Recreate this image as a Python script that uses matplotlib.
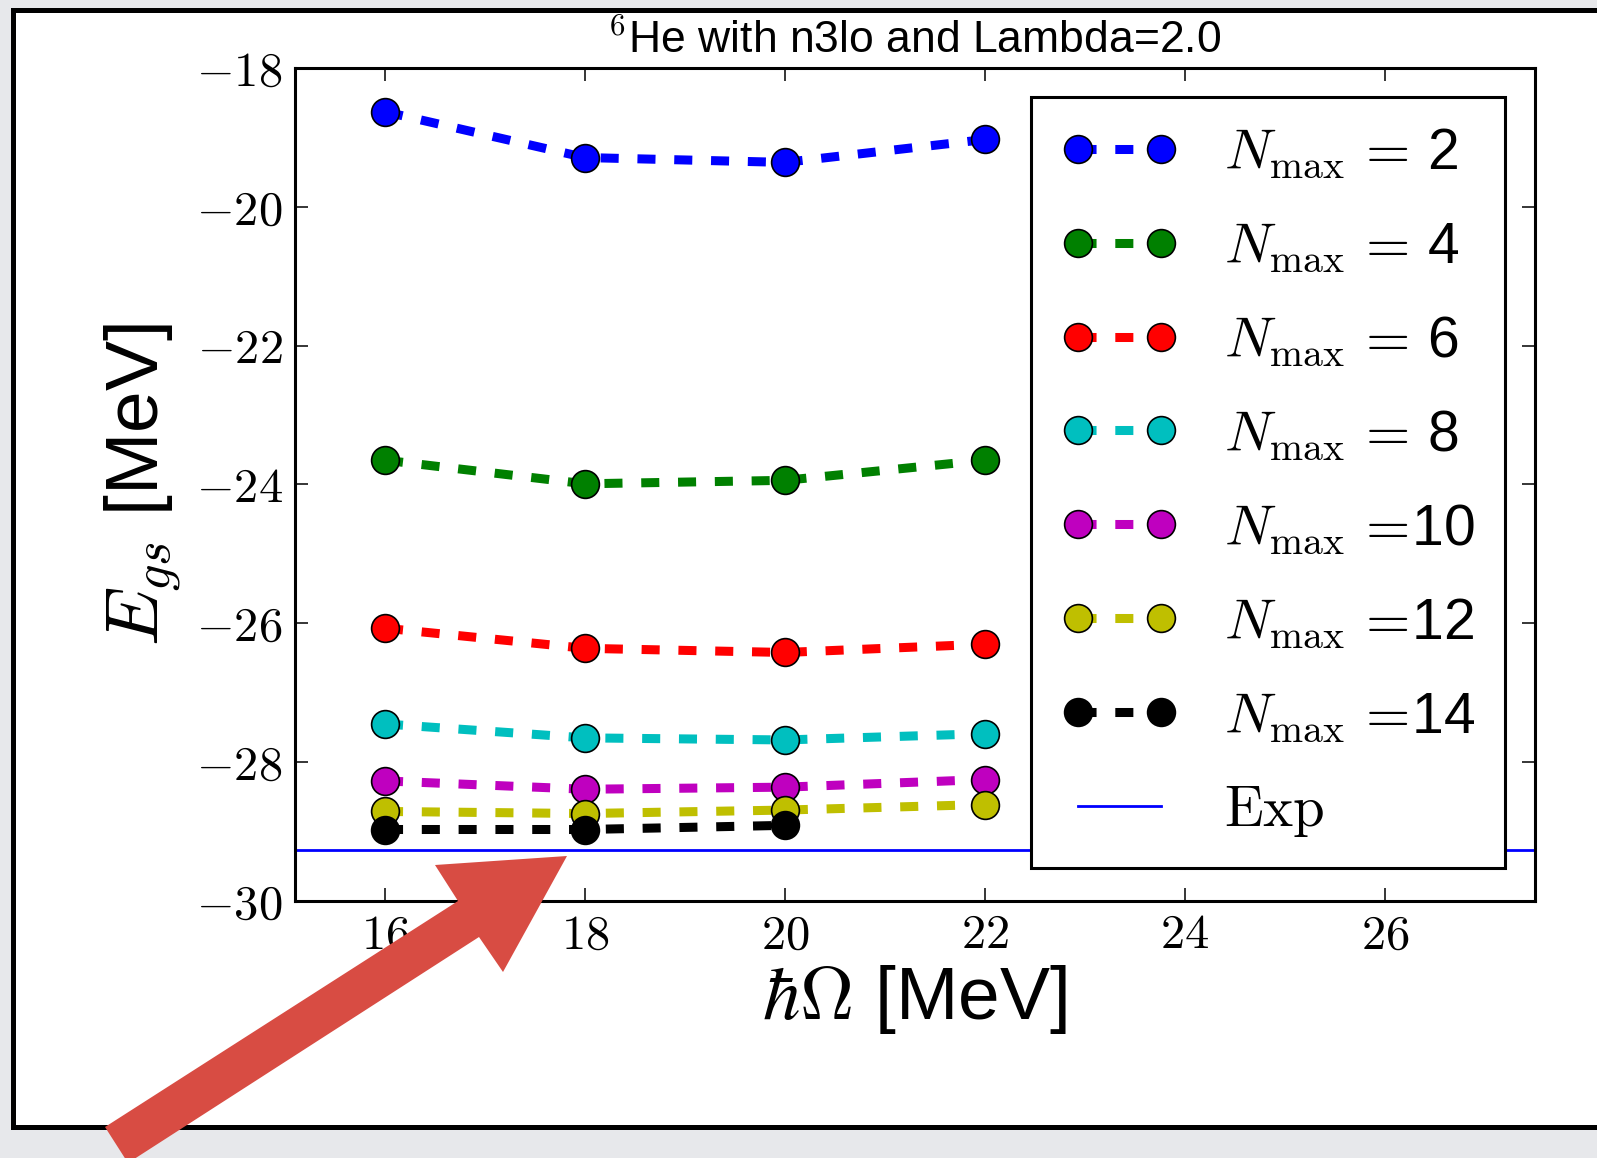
import numpy as np
import matplotlib
matplotlib.use("Agg")
import matplotlib.pyplot as plt
from matplotlib.patches import Rectangle, Polygon
from matplotlib.ticker import FuncFormatter, MultipleLocator

plt.rcParams['font.family'] = ['Liberation Sans', 'DejaVu Sans']
plt.rcParams['mathtext.fontset'] = 'cm'
plt.rcParams['lines.scale_dashes'] = False

# hbar*Omega grid and ground-state energies per model space
hw = [16, 18, 20, 22]
nmax = [2, 4, 6, 8, 10, 12, 14]
e_gs = [
    [-18.63, -19.29, -19.36, -19.03],
    [-23.65, -23.99, -23.94, -23.65],
    [-26.07, -26.36, -26.42, -26.30],
    [-27.45, -27.65, -27.68, -27.59],
    [-28.27, -28.39, -28.36, -28.25],
    [-28.71, -28.74, -28.69, -28.61],
    [-28.97, -28.97, -28.91],
]
colors = ['b', 'g', 'r', 'c', 'm', 'y', 'k']
e_exp = -29.27

W, H = 1597, 1158
fig = plt.figure(figsize=(W / 100, H / 100), dpi=100, facecolor='#e7e8eb')

# white slide panel
panel = Rectangle((13 / W, 1 - 1127 / H), 1.2, (1127 - 10) / H,
                  transform=fig.transFigure, facecolor='white',
                  edgecolor='black', lw=3.6, zorder=-5)
fig.add_artist(panel)

ax = fig.add_axes([295 / W, 1 - 901 / H, (1535 - 295) / W, (901 - 68) / H])

for n, y, c in zip(nmax, e_gs, colors):
    ax.plot(hw[:len(y)], y, linestyle='--', dashes=(13, 13.5), color=c,
            lw=6.5, marker='o', ms=20, mec='k', mew=1.2,
            label=r'$N_{\rm max}\,=\!$' + '%2d' % n)
ax.axhline(e_exp, color='b', lw=2, label=r'$\rm Exp$')

ax.set_xlim(15.1, 27.5)
ax.set_ylim(-30, -18)
ax.xaxis.set_major_locator(MultipleLocator(2))
ax.yaxis.set_major_locator(MultipleLocator(2))
fmt = FuncFormatter(lambda v, p: r'$%d$' % round(v))
ax.xaxis.set_major_formatter(fmt)
ax.yaxis.set_major_formatter(fmt)
ax.tick_params(direction='in', length=9.5, width=1.1, labelsize=35,
               pad=9, top=True, right=True)
for s in ax.spines.values():
    s.set_linewidth(2.2)

ax.set_xlabel(r'$\hbar\Omega$ [MeV]', fontsize=54, labelpad=3)
ax.set_ylabel(r'$E_{gs}$ [MeV]', fontsize=54, labelpad=8)
ax.set_title(r'$^6$He with n3lo and Lambda=2.0', fontsize=32, pad=11)

leg = ax.legend(loc='upper right', bbox_to_anchor=(0.9758, 0.965),
                borderaxespad=0, fontsize=41, numpoints=2,
                handlelength=2.07, labelspacing=0.70, fancybox=False,
                framealpha=1, edgecolor='black', borderpad=0.52,
                handletextpad=0.8)
leg.get_frame().set_linewidth(2.2)

# red pointer arrow
arrow_px = [(105, 1127), (458, 901), (435, 865), (567, 856),
            (503, 972), (479, 937), (128, 1163)]
arrow = Polygon([(x / W, 1 - y / H) for x, y in arrow_px], closed=True,
                transform=fig.transFigure, facecolor='#d84c43',
                edgecolor='none', zorder=10)
fig.add_artist(arrow)

fig.savefig('out.png', dpi=100, facecolor=fig.get_facecolor())
